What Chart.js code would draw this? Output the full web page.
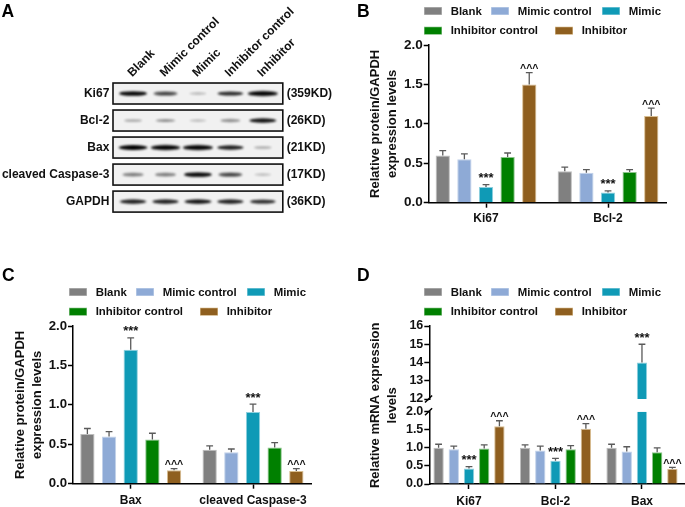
<!DOCTYPE html>
<html><head><meta charset="utf-8">
<script src="https://cdn.jsdelivr.net/npm/chart.js@4"></script>
<style>
html,body{margin:0;padding:0;background:#fff}
body{position:relative;width:685px;height:507px;overflow:hidden}
canvas{position:absolute}
.w{position:absolute}
</style></head><body>
<div class="w" style="left:0;top:0;width:345px;height:230px"><canvas id="a"></canvas></div>
<div class="w" style="left:350px;top:0;width:335px;height:235px"><canvas id="b"></canvas></div>
<div class="w" style="left:0;top:260px;width:345px;height:247px"><canvas id="c"></canvas></div>
<div class="w" style="left:350px;top:260px;width:335px;height:247px"><canvas id="d"></canvas></div>
<script>
// ---- shared
const seriesNames = ['Blank','Mimic control','Mimic','Inhibitor control','Inhibitor'];
const seriesFill = ['#808080','#8eaad6','#0f9ab6','#008000','#8f5f1f'];
const seriesEdge = ['#bdbdbd','#c2d2ea','#8fd0de','#8cc48c','#d8bd90'];
const seriesMarks = ['','','***','','^^^'];

// ---- panel A
const blotRows = ['Ki67','Bcl-2','Bax','cleaved Caspase-3','GAPDH'];
const blotWeights = ['(359KD)','(26KD)','(21KD)','(17KD)','(36KD)'];
const bandKi67 = [0.85,0.6,0.14,0.7,1.0];
const bandBcl2 = [0.2,0.3,0.12,0.35,0.8];
const bandBax = [0.9,0.95,1.0,0.75,0.18];
const bandCasp = [0.4,0.4,0.85,0.6,0.12];
const bandGapdh = [0.75,0.75,0.8,0.75,0.7];

// ---- panel B
const bCats = ['Ki67','Bcl-2'];
const bBlank = [0.60,0.40], bBlankErr = [0.66,0.45];
const bMimicCtl = [0.55,0.38], bMimicCtlErr = [0.62,0.42];
const bMimic = [0.20,0.13], bMimicErr = [0.23,0.15];
const bInhibCtl = [0.58,0.39], bInhibCtlErr = [0.63,0.42];
const bInhib = [1.50,1.10], bInhibErr = [1.65,1.20];

// ---- panel C
const cCats = ['Bax','cleaved Caspase-3'];
const cBlank = [0.63,0.43], cBlankErr = [0.70,0.48];
const cMimicCtl = [0.60,0.40], cMimicCtlErr = [0.66,0.44];
const cMimic = [1.70,0.91], cMimicErr = [1.85,1.01];
const cInhibCtl = [0.56,0.46], cInhibCtlErr = [0.64,0.52];
const cInhib = [0.17,0.16], cInhibErr = [0.19,0.19];

// ---- panel D
const dCats = ['Ki67','Bcl-2','Bax'];
const dBlank = [1.00,1.00,1.00], dBlankErr = [1.10,1.08,1.10];
const dMimicCtl = [0.96,0.93,0.90], dMimicCtlErr = [1.05,1.05,1.03];
const dMimic = [0.43,0.64,14.0], dMimicErr = [0.48,0.71,15.0];
const dInhibCtl = [0.98,0.96,0.88], dInhibCtlErr = [1.08,1.06,1.00];
const dInhib = [1.60,1.53,0.42], dInhibErr = [1.75,1.67,0.46];

const FONT = '"Liberation Sans", Arial, sans-serif';
Chart.defaults.font.family = FONT;
Chart.defaults.font.weight = 'bold';
Chart.defaults.color = '#111';
Chart.defaults.animation = false;
Chart.defaults.responsive = false;
Chart.defaults.devicePixelRatio = 1;

function sizeCanvas(id){
  const el = document.getElementById(id), p = el.parentElement;
  el.width = parseInt(p.style.width); el.height = parseInt(p.style.height);
  el.style.width = el.width+'px'; el.style.height = el.height+'px';
  return el;
}

const panelLetter = {
  id:'panelLetter',
  afterDraw(chart, args, opts){
    const c = chart.ctx; c.save();
    c.font = 'bold 17.5px '+FONT; c.fillStyle='#000'; c.textBaseline='alphabetic'; c.textAlign='left';
    c.fillText(opts.text, opts.x, opts.y); c.restore();
  }
};

const legendRows = {
  id:'legendRows',
  afterDraw(chart, args, opts){
    const c = chart.ctx; c.save();
    c.font = 'bold 11.4px '+FONT; c.textBaseline='middle'; c.textAlign='left';
    opts.layout.forEach(([idx,dx,row])=>{
      const ds = chart.data.datasets[idx], y = opts.y + row*opts.rowGap, x = opts.x + dx;
      c.fillStyle = ds.borderColor; c.fillRect(x,y-4,18,8);
      c.fillStyle = ds.backgroundColor; c.fillRect(x+0.6,y-3.4,16.8,6.8);
      c.fillStyle = '#111'; c.fillText(ds.label, x+26.7, y+0.5);
    });
    c.restore();
  }
};

const clipToAxis = {
  id:'clipToAxis',
  beforeDatasetDraw(chart, args){
    const y = chart.scales[args.meta.yAxisID], c = chart.ctx;
    c.save(); c.beginPath();
    c.rect(chart.chartArea.left, y.top, chart.chartArea.width, y.bottom-y.top); c.clip();
  },
  afterDatasetDraw(chart){ chart.ctx.restore(); }
};

const errorBars = {
  id:'errorBars',
  afterDatasetsDraw(chart){
    const c = chart.ctx; c.save();
    chart.data.datasets.forEach((ds,di)=>{
      const meta = chart.getDatasetMeta(di), y = chart.scales[meta.yAxisID];
      (ds.errors||[]).forEach((hi,i)=>{
        const v = ds.data[i].y;
        if(v==null || hi>y.max || hi==null) return;
        const x = meta.data[i].x, py = y.getPixelForValue(hi), pv = y.getPixelForValue(v);
        c.strokeStyle = '#5a5a5a'; c.lineWidth = 1.3;
        c.beginPath(); c.moveTo(x,pv); c.lineTo(x,py);
        c.moveTo(x-3.4,py); c.lineTo(x+3.4,py); c.stroke();
        if(ds.mark){
          c.fillStyle='#111'; c.textAlign='center'; c.textBaseline='alphabetic';
          c.font = (ds.mark==='***'?'bold 13px ':'bold 10.5px ')+FONT;
          if(ds.mark==='***'){ c.fillText('***',x,py-2.5); }
          else { c.fillText('^^^',x,py-0.5); }
        }
      });
    });
    c.restore();
  }
};

const axisBreak = {
  id:'axisBreak',
  afterDraw(chart){
    const hi = chart.scales.yHigh, lo = chart.scales.yLow; if(!hi) return;
    const c = chart.ctx, x = chart.chartArea.left; c.save();
    c.strokeStyle='#000'; c.lineWidth=1.5; c.beginPath();
    [hi.bottom,lo.top].forEach(py=>{ c.moveTo(x-4.3,py+3.5); c.lineTo(x+2.8,py-3.5); });
    c.stroke(); c.restore();
  }
};

function rowsOf(values, errors){
  return values.map((vals,s)=>({
    label: seriesNames[s],
    data: vals.map((v,i)=>({x:i+1,y:v})),
    errors: errors[s],
    mark: seriesMarks[s],
    backgroundColor: seriesFill[s],
    borderColor: seriesEdge[s],
    borderWidth: 1,
    stack: seriesNames[s]
  }));
}
function xAxis(cats,min,max,h,pad,size){
  return {
    type:'linear', min, max, position:'bottom', offset:false,
    afterBuildTicks: s => { s.ticks = cats.map((_,i)=>({value:i+1})); },
    afterFit: s => { s.height = h; },
    border:{color:'#000',width:1.5},
    grid:{offset:false,drawOnChartArea:false,tickLength:5,tickWidth:1.5,tickColor:'#000'},
    ticks:{autoSkip:false,maxRotation:0,padding:pad,font:{size:size||12,weight:'bold'},color:'#111',callback:v=>cats[v-1]}
  };
}
function yAxis(min,max,step,w,size,dec,extra){
  return Object.assign({
    type:'linear', position:'left', min, max, stacked:false,
    afterFit: s => { s.width = w; },
    border:{color:'#000',width:1.5},
    grid:{drawOnChartArea:false,tickLength:5,tickWidth:1.5,tickColor:'#000'},
    ticks:{autoSkip:false,stepSize:step,padding:1,font:{size,weight:'bold'},color:'#111',callback:v=>v.toFixed(dec)}
  },extra||{});
}
const yTitle = (lines,pad)=>({display:true,text:lines,padding:{top:pad,bottom:0},font:{size:13,weight:'bold',lineHeight:1.28},color:'#111'});

const legendLayout = [[0,0,0],[1,67,0],[2,178,0],[3,0,1],[4,131,1]];

// ---- Panel B
new Chart(sizeCanvas('b'),{
  type:'bar',
  data:{datasets:rowsOf([bBlank,bMimicCtl,bMimic,bInhibCtl,bInhib],[bBlankErr,bMimicCtlErr,bMimicErr,bInhibCtlErr,bInhibErr])},
  options:{
    layout:{padding:{top:45,right:18.3,left:0,bottom:0}},
    categoryPercentage:0.886, barPercentage:0.66,
    scales:{
      x:xAxis(bCats,0.5303,2.481,32.3,4),
      y:yAxis(0,2,0.5,78.7,13.5,1,{title:yTitle(['Relative protein/GAPDH','expression levels'],17.6)})
    },
    plugins:{legend:{display:false},tooltip:{enabled:false},
      panelLetter:{text:'B',x:7,y:16.5},
      legendRows:{x:74,y:11,rowGap:19.7,layout:legendLayout}}
  },
  plugins:[panelLetter,legendRows,errorBars]
});

// ---- Panel C
new Chart(sizeCanvas('c'),{
  type:'bar',
  data:{datasets:rowsOf([cBlank,cMimicCtl,cMimic,cInhibCtl,cInhib],[cBlankErr,cMimicCtlErr,cMimicErr,cInhibCtlErr,cInhibErr])},
  options:{
    layout:{padding:{top:66,right:33.3,left:0,bottom:0}},
    categoryPercentage:0.886, barPercentage:0.66,
    scales:{
      x:xAxis(cCats,0.528,2.48,23.3,4.5),
      y:yAxis(0,2,0.5,73,13.2,1,{title:yTitle(['Relative protein/GAPDH','expression levels'],12.3)})
    },
    plugins:{legend:{display:false},tooltip:{enabled:false},
      panelLetter:{text:'C',x:2,y:21},
      legendRows:{x:69,y:32,rowGap:19.7,layout:legendLayout}}
  },
  plugins:[panelLetter,legendRows,errorBars]
});

// ---- Panel D
const dSets = rowsOf([dBlank,dMimicCtl,dMimic,dInhibCtl,dInhib],[dBlankErr,dMimicCtlErr,dMimicErr,dInhibCtlErr,dInhibErr]);
dSets.forEach(d=>{ d.yAxisID='yLow'; });
dSets.push({
  label:'Mimic', data:dMimic.map((v,i)=>({x:i+1,y:v>=12?v:null})),
  errors:dMimicErr, mark:'***', backgroundColor:seriesFill[2], borderColor:seriesEdge[2], borderWidth:1,
  stack:seriesNames[2], yAxisID:'yHigh'
});
new Chart(sizeCanvas('d'),{
  type:'bar',
  data:{datasets:dSets},
  options:{
    layout:{padding:{top:66,right:1,left:0,bottom:0}},
    categoryPercentage:0.879, barPercentage:0.68,
    scales:{
      x:xAxis(dCats,0.541,3.486,23,5),
      yHigh:yAxis(12,16,1,79.3,12.5,0,{stack:'d',stackWeight:73,weight:3}),
      yGap:{type:'linear',position:'left',min:0,max:1,stack:'d',stackWeight:12.7,weight:2,stacked:false,
        afterFit:s=>{s.width=79.3;},
        border:{display:false},grid:{display:false},ticks:{display:false},
        title:yTitle(['Relative mRNA expression','levels'],17.6)},
      yLow:yAxis(0,2,0.5,79.3,12.5,1,{stack:'d',stackWeight:72.3,weight:1})
    },
    plugins:{legend:{display:false},tooltip:{enabled:false},
      panelLetter:{text:'D',x:7,y:21},
      legendRows:{x:74,y:32,rowGap:19.7,layout:legendLayout}}
  },
  plugins:[panelLetter,legendRows,clipToAxis,errorBars,axisBreak]
});

// ---- Panel A
function bandImage(s){
  const w = 15+15*s, h = 2+3.2*s, cv = document.createElement('canvas');
  cv.width = Math.ceil(w+12); cv.height = Math.ceil(h+12);
  const c = cv.getContext('2d');
  c.filter = 'blur(1.2px)';
  c.fillStyle = 'rgba(0,0,0,'+Math.min(1,0.12+s*1.0)+')';
  c.beginPath(); c.ellipse(cv.width/2,cv.height/2,w/2,h/2,0,0,Math.PI*2); c.fill();
  return cv;
}
const blotBands = [bandKi67,bandBcl2,bandBax,bandCasp,bandGapdh];
const blotFrames = {
  id:'blotFrames',
  beforeDatasetsDraw(chart){
    const c = chart.ctx, a = chart.chartArea, y = chart.scales.y; c.save();
    blotRows.forEach(r=>{
      const py = y.getPixelForValue(blotRows.indexOf(r));
      c.fillStyle='#f1f1f1'; c.fillRect(a.left-3.8,py-10.5,a.width+7.6,21);
    });
    c.restore();
  },
  afterDatasetsDraw(chart){
    const c = chart.ctx, a = chart.chartArea, y = chart.scales.y; c.save();
    c.strokeStyle='#111'; c.lineWidth=1.6;
    blotRows.forEach(r=>{
      const py = y.getPixelForValue(blotRows.indexOf(r));
      c.strokeRect(a.left-3.8,py-10.5,a.width+7.6,21);
    });
    c.restore();
  }
};
new Chart(sizeCanvas('a'),{
  type:'scatter',
  data:{datasets:blotBands.map((vals,r)=>({
    label:blotRows[r],
    data:vals.map((s,i)=>({x:seriesNames[i],y:blotRows[r]})),
    strengths:vals,
    pointStyle:ctx=>bandImage(ctx.dataset.strengths[ctx.dataIndex]),
    showLine:false
  }))},
  options:{
    layout:{padding:{top:0,left:0,right:0,bottom:0}},
    scales:{
      x:{type:'category',labels:seriesNames,position:'top',offset:true,
        afterFit:s=>{s.height=80;},
        border:{display:false},grid:{display:false},
        ticks:{minRotation:45,maxRotation:45,autoSkip:false,padding:-8,labelOffset:7,font:{size:12,weight:'bold'},color:'#111'}},
      y:{type:'category',labels:blotRows,position:'left',offset:true,
        afterFit:s=>{s.width=116.8;},
        border:{display:false},grid:{display:false,drawTicks:false},
        ticks:{autoSkip:false,padding:7.5,font:{size:12,weight:'bold'},color:'#111'}},
      y2:{type:'category',labels:blotWeights,position:'right',offset:true,
        afterFit:s=>{s.width=66;},
        border:{display:false},grid:{display:false,drawTicks:false},
        ticks:{autoSkip:false,padding:7.7,font:{size:12,weight:'bold'},color:'#111'}}
    },
    plugins:{legend:{display:false},tooltip:{enabled:false},panelLetter:{text:'A',x:1.5,y:16.5}}
  },
  plugins:[panelLetter,blotFrames]
});
</script>
</body></html>
